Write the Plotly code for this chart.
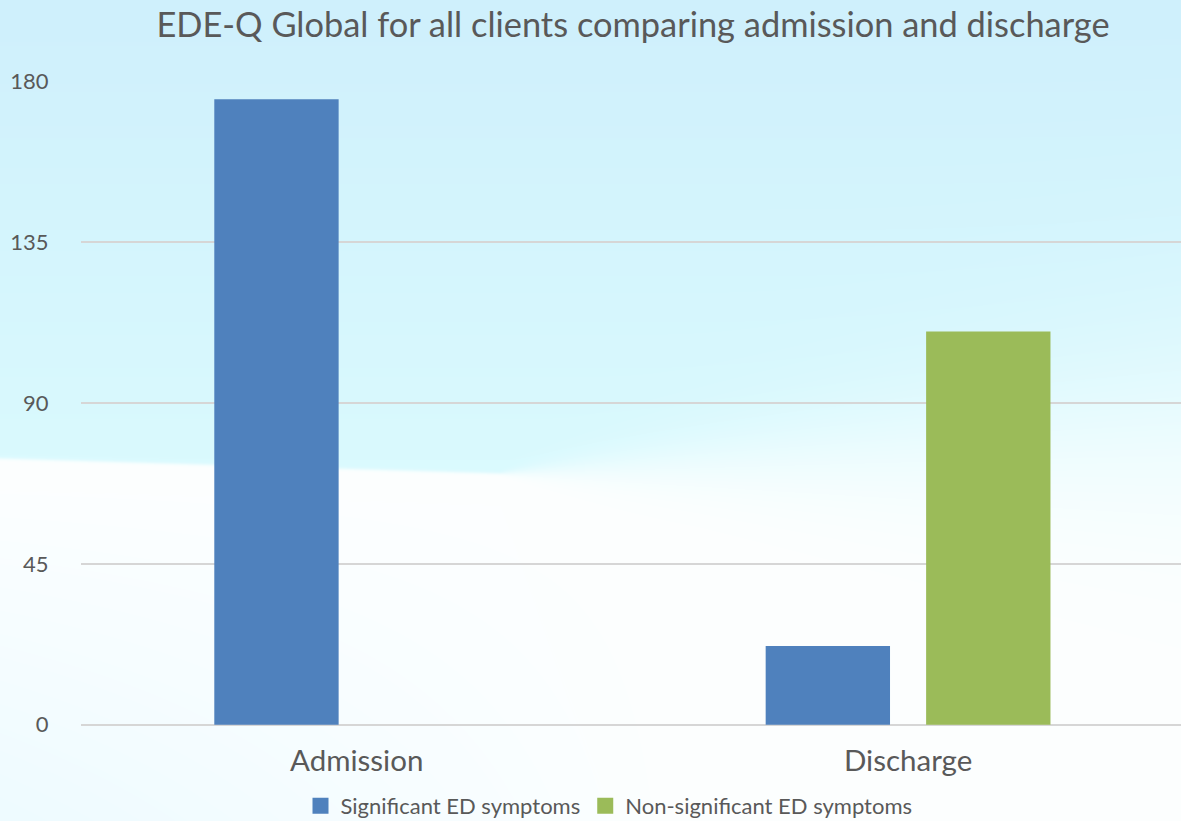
import base64
import struct
import zlib

import numpy as np
import plotly.graph_objects as go

# ---- data -------------------------------------------------------------
stages = ["Admission", "Discharge"]
significant = [175, 22]
non_significant = [0, 110]
y_ticks = [0, 45, 90, 135, 180]
series_names = ["Significant ED symptoms", "Non-significant ED symptoms"]
series_colors = ["#4f81bd", "#9bbb59"]

W, H = 1181, 821
M_L, M_R, M_T, M_B = 81, 0, 81, 96


# ---- sky backdrop rendered to an in-memory PNG ------------------------
def sky_png(w, h):
    yy, xx = np.mgrid[0:h, 0:w].astype(float)
    top = np.array([207.0, 240.0, 252.0])
    mid = np.array([218.0, 250.0, 254.0])
    t = np.clip(yy / 460.0, 0, 1)[..., None]
    sky = top + (mid - top) * t

    # horizon: crisp on the left, soft diagonal fade on the right
    horizon = np.where(xx < 500, 458 + xx * 0.03, 473 - (xx - 500) * 0.065)
    soft = np.where(xx < 500, 1.0, 1.0 + (xx - 500) * 0.09)
    m = 1.0 / (1.0 + np.exp(-(yy - horizon) / soft))
    m = m[..., None]

    haze = (np.clip(1 - xx / 700.0, 0, 1) * np.clip((yy - 470) / 350.0, 0, 1))[..., None]
    white = np.array([253.0, 255.0, 255.0])
    tint = np.array([238.0, 251.0, 255.0])
    ground = white + (tint - white) * haze

    img = sky * (1 - m) + ground * m
    img = np.clip(img, 0, 255).astype(np.uint8)

    raw = b"".join(b"\x00" + img[r].tobytes() for r in range(h))

    def chunk(tag, data):
        c = struct.pack(">I", len(data)) + tag + data
        return c + struct.pack(">I", zlib.crc32(tag + data) & 0xFFFFFFFF)

    png = b"\x89PNG\r\n\x1a\n"
    png += chunk(b"IHDR", struct.pack(">IIBBBBB", w, h, 8, 2, 0, 0, 0))
    png += chunk(b"IDAT", zlib.compress(raw, 9))
    png += chunk(b"IEND", b"")
    return "data:image/png;base64," + base64.b64encode(png).decode()


FONT = "Lato"
TEXT = "#595959"

fig = go.Figure()
for name, vals, col in zip(series_names, [significant, non_significant], series_colors):
    fig.add_trace(go.Bar(x=stages, y=vals, name=name, marker_color=col,
                         marker_line_width=0, showlegend=False, legendgroup=name))
# legend swatches
for name, col in zip(series_names, series_colors):
    fig.add_trace(go.Scatter(x=[None], y=[None], mode="markers", name=name,
                             legendgroup=name,
                             marker=dict(symbol="square", size=21, color=col)))

pw = W - M_L - M_R
ph = H - M_T - M_B
fig.add_layout_image(dict(
    source=sky_png(W, H), xref="paper", yref="paper",
    x=-M_L / pw, y=1 + M_T / ph, sizex=W / pw, sizey=H / ph,
    xanchor="left", yanchor="top", sizing="stretch", layer="below",
))

fig.update_layout(
    width=W, height=H,
    margin=dict(l=M_L, r=M_R, t=M_T, b=M_B),
    paper_bgcolor="white", plot_bgcolor="rgba(0,0,0,0)",
    barmode="group", bargap=0.418, bargroupgap=0.225,
    title=dict(text="EDE-Q Global for all clients comparing admission and discharge",
               x=633 / W, xanchor="center", y=1 - 25 / H, yanchor="middle",
               font=dict(family=FONT, size=34.4, color=TEXT)),
    font=dict(family=FONT, color=TEXT),
    legend=dict(orientation="h", xref="container", x=609 / W, xanchor="center",
                yref="container", y=1 - 806 / H, yanchor="middle",
                font=dict(family=FONT, size=22, color=TEXT),
                bgcolor="rgba(0,0,0,0)", itemsizing="trace"),
    xaxis=dict(range=[-0.5, 1.495], showgrid=False, showline=False,
               ticks="outside", ticklen=10, tickcolor="rgba(0,0,0,0)",
               tickfont=dict(family=FONT, size=29.5, color=TEXT)),
    yaxis=dict(range=[-0.1, 180.1], tickvals=y_ticks, showgrid=True,
               gridcolor="#d6d6d6", gridwidth=2, zeroline=True,
               zerolinecolor="#d6d6d6", zerolinewidth=2, showline=False,
               ticks="outside", ticklen=27, tickcolor="rgba(0,0,0,0)",
               tickfont=dict(family=FONT, size=22, color=TEXT)),
)

fig.write_html("out.html")
